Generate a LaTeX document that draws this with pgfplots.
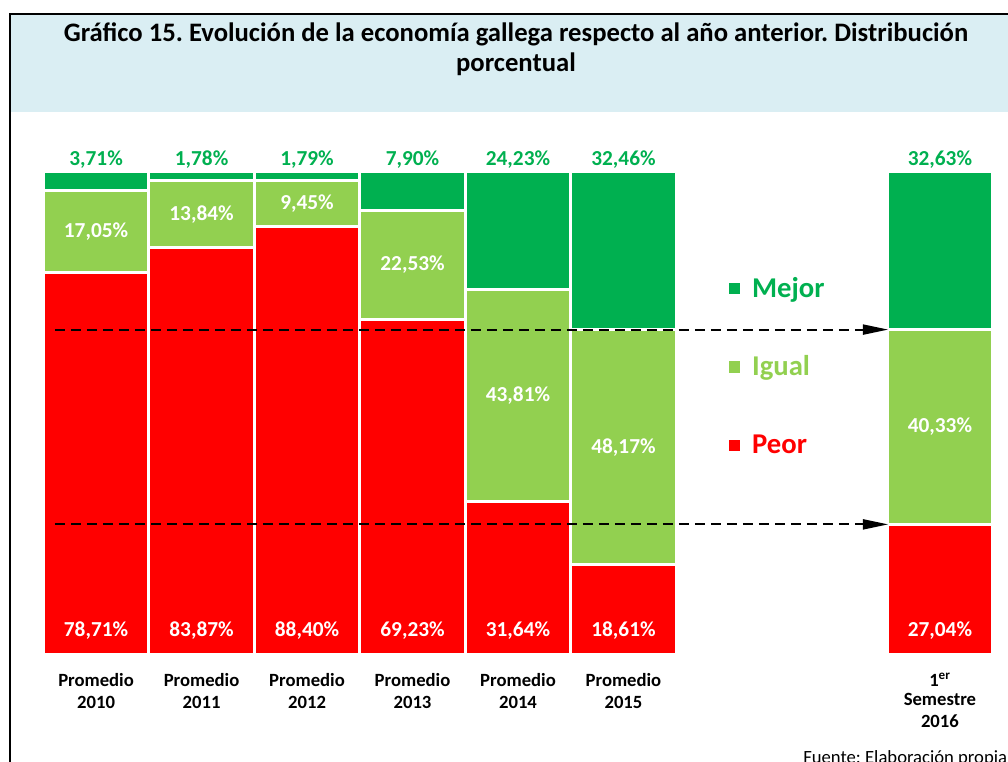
\documentclass[border=0pt]{standalone}
\usepackage{pgfplots}
\pgfplotsset{compat=1.18}
\usepackage{pgfplotstable}
\usepackage{fontspec}
\setmainfont{Carlito}
\usetikzlibrary{arrows.meta}
\frenchspacing

\definecolor{mejor}{HTML}{00B050}
\definecolor{igual}{HTML}{92D050}
\definecolor{peor}{HTML}{FF0000}
\definecolor{titlebg}{HTML}{DAEEF3}

% x: position of the bar (2016 leaves a gap)
\pgfplotstableread{
x peor igual mejor
0 78.71 17.05 3.71
1 83.87 13.84 1.78
2 88.40 9.45 1.79
3 69.23 22.53 7.90
4 31.64 43.81 24.23
5 18.61 48.17 32.46
8 27.04 40.33 32.63
}\datos

% 100% stacked: every bar is scaled to its own total
\def\tot{(\thisrow{peor}+\thisrow{igual}+\thisrow{mejor})}

\pgfplotsset{
  marco/.style={
    at={(32.5pt,80.25pt)}, anchor=south west,
    scale only axis, width=712pt, height=362.25pt,
    xmin=-0.5, xmax=8.5, ymin=0, ymax=100,
    axis line style={draw=none}, tick style={draw=none},
    ytick=\empty, clip=false,
  },
  etiq/.style={
    nodes near coords={\pgfmathprintnumber[assume math mode=true,use comma,fixed,fixed zerofill,precision=2]{\pgfplotspointmeta}\%},
    point meta=explicit,
  },
}

\begin{document}
\begin{tikzpicture}
\useasboundingbox (0,0) rectangle (756pt,571.5pt);
\clip (0,0) rectangle (756pt,571.5pt);

% title box
\fill[titlebg] (7.5pt,487.5pt) rectangle (760pt,561pt);
\draw[line width=1.5pt] (7.5pt,-5pt) -- (7.5pt,561pt) -- (760pt,561pt);
\node[font=\bfseries\fontsize{20}{24}\selectfont, anchor=base] at (387pt,540.4pt)
  {Gráfico 15. Evolución de la economía gallega respecto al año anterior. Distribución};
\node[font=\bfseries\fontsize{20}{24}\selectfont, anchor=base] at (387pt,517.9pt) {porcentual};

\begin{axis}[marco, ybar stacked, bar width=1,
    xtick={0,1,2,3,4,5,8},
    xticklabels={{Promedio\\2010},{Promedio\\2011},{Promedio\\2012},{Promedio\\2013},
                 {Promedio\\2014},{Promedio\\2015},{1\textsuperscript{er}\\[-2pt]Semestre\\2016}},
    xticklabel style={font=\bfseries\fontsize{14}{16.5}\selectfont, align=center, anchor=north, yshift=-10pt},
  ]
  \addplot[fill=peor, draw=white, line width=2.25pt] table[x=x, y expr=\thisrow{peor}*100/\tot] {\datos};
  \addplot[fill=igual, draw=white, line width=2.25pt] table[x=x, y expr=\thisrow{igual}*100/\tot] {\datos};
  \addplot[fill=mejor, draw=white, line width=2.25pt] table[x=x, y expr=\thisrow{mejor}*100/\tot] {\datos};
\end{axis}

\begin{axis}[marco, xtick=\empty]
  % Mejor: above the bar
  \addplot[draw=none, mark=none, etiq,
    every node near coord/.append style={text=mejor, font=\bfseries\fontsize{16}{19}\selectfont,
      anchor=base, inner sep=0pt, yshift=5pt}]
    table[x=x, y expr=100, meta=mejor] {\datos};
  % Igual: centred in its segment
  \addplot[draw=none, mark=none, etiq,
    every node near coord/.append style={text=white, font=\bfseries\fontsize{16}{19}\selectfont, anchor=center}]
    table[x=x, y expr=(\thisrow{peor}+\thisrow{igual}/2)*100/\tot, meta=igual] {\datos};
  % Peor: at the foot of the bar
  \addplot[draw=none, mark=none, etiq,
    every node near coord/.append style={text=white, font=\bfseries\fontsize{16}{19}\selectfont, anchor=center}]
    table[x=x, y expr=5, meta=peor] {\datos};

  % arrows towards the 2016 bar
  \draw[black, line width=1.5pt, dash pattern=on 7.5pt off 4.5pt, -{Triangle[length=19pt,width=7.5pt]}]
    (axis cs:-0.39,67.37) -- (axis cs:7.51,67.37);
  \draw[black, line width=1.5pt, dash pattern=on 7.5pt off 4.5pt, -{Triangle[length=19pt,width=7.5pt]}]
    (axis cs:-0.39,27.04) -- (axis cs:7.51,27.04);

  % legend
  \node[anchor=base west, inner sep=0pt, text=mejor, font=\bfseries\fontsize{21.5}{24}\selectfont]
    at (axis cs:5.996,74.1) {\raisebox{2pt}{\rule{8.5pt}{8.5pt}}\hspace{9pt}Mejor};
  \node[anchor=base west, inner sep=0pt, text=igual, font=\bfseries\fontsize{21.5}{24}\selectfont]
    at (axis cs:5.996,57.9) {\raisebox{2pt}{\rule{8.5pt}{8.5pt}}\hspace{9pt}Igual};
  \node[anchor=base west, inner sep=0pt, text=peor, font=\bfseries\fontsize{21.5}{24}\selectfont]
    at (axis cs:5.996,41.7) {\raisebox{2pt}{\rule{8.5pt}{8.5pt}}\hspace{9pt}Peor};
\end{axis}

\node[anchor=base west, inner sep=0pt, font=\fontsize{14}{16}\selectfont] at (602.25pt,-1.5pt)
  {Fuente: Elaboración propia};
\end{tikzpicture}
\end{document}
